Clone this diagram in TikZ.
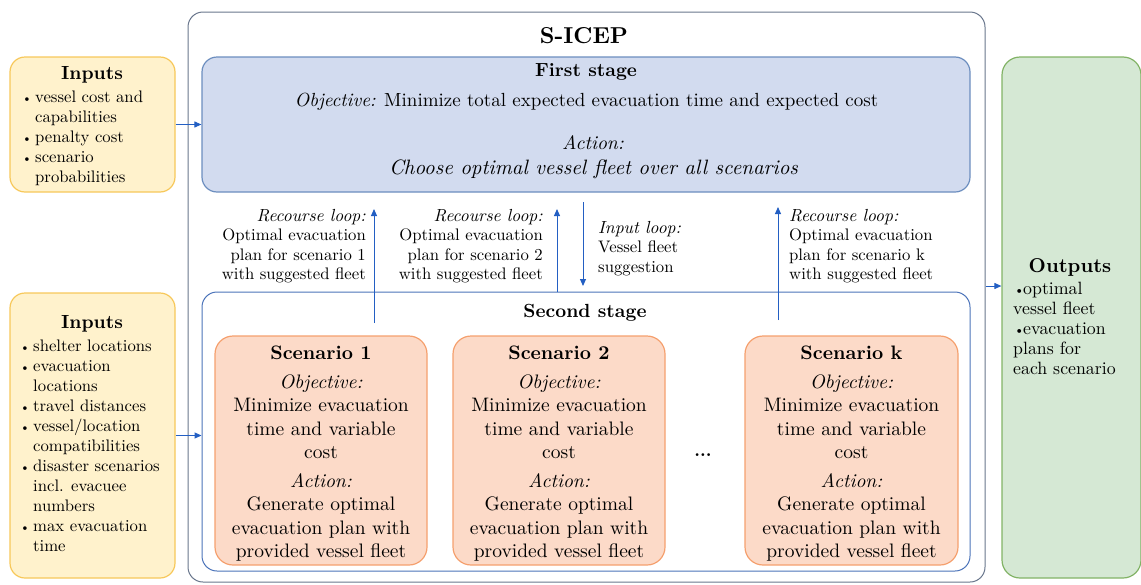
\documentclass[tikz,border=0pt]{standalone}
\usepackage{fontspec}
\setmainfont{lmroman10-regular.otf}[BoldFont=lmroman10-bold.otf, ItalicFont=lmroman10-italic.otf, BoldItalicFont=lmroman10-bolditalic.otf]
\usetikzlibrary{arrows.meta}
\definecolor{inFill}{RGB}{255,242,204}
\definecolor{inDraw}{RGB}{247,200,90}
\definecolor{fsFill}{RGB}{210,219,239}
\definecolor{fsDraw}{RGB}{108,142,191}
\definecolor{outerDraw}{RGB}{105,118,140}
\definecolor{ssDraw}{RGB}{75,115,185}
\definecolor{scFill}{RGB}{252,218,200}
\definecolor{scDraw}{RGB}{245,160,110}
\definecolor{outFill}{RGB}{213,232,212}
\definecolor{outDraw}{RGB}{130,179,102}
\definecolor{arrC}{RGB}{35,95,195}
\newcommand\fz[2]{\fontsize{#1}{#2}\selectfont}
\newcommand\bul{\makebox[13pt][l]{\raisebox{0.5pt}{\scalebox{0.75}{\textbullet}}}}
\newcommand\bulo{\makebox[10pt][l]{\hspace*{1pt}\raisebox{0.5pt}{\scalebox{0.75}{\textbullet}}}}
\begin{document}
\begin{tikzpicture}[x=1pt,y=-1pt,
  boxbase/.style={draw, line width=1.2pt, inner sep=0pt},
  inbox/.style={boxbase, fill=inFill, draw=inDraw, rounded corners=15pt},
  fsbox/.style={boxbase, fill=fsFill, draw=fsDraw, rounded corners=15pt},
  outerbox/.style={boxbase, draw=outerDraw, line width=1pt, rounded corners=15pt},
  ssbox/.style={boxbase, draw=ssDraw, line width=1pt, rounded corners=15pt},
  scbox/.style={boxbase, fill=scFill, draw=scDraw, rounded corners=18pt},
  outbox/.style={boxbase, fill=outFill, draw=outDraw, rounded corners=18pt},
  conn/.style={draw=arrC, line width=1pt, -{Triangle[length=7pt,width=6pt]}},
  lbl/.style={font=\fz{16.7}{19.5}, inner sep=0pt},
  items/.style={font=\fz{16.7}{20}, inner sep=0pt, align=left, anchor=north west},
  sctext/.style={font=\fz{19.5}{23.5}, inner sep=0pt, align=center, anchor=north},
  ttl/.style={font=\fz{19}{23}\bfseries, inner sep=0pt}
]
\useasboundingbox (0,0) rectangle (1141,584);

% boxes
\node[outerbox, minimum width=797, minimum height=570] (outer) at (586.5,297) {};
\node[fsbox, minimum width=768, minimum height=135] (first) at (586,124.5) {};
\node[ssbox, minimum width=768, minimum height=279] (second) at (586,431.5) {};
\node[scbox, minimum width=212, minimum height=229] (sc1) at (321,450.5) {};
\node[scbox, minimum width=212, minimum height=229] (sc2) at (559,450.5) {};
\node[scbox, minimum width=213, minimum height=229] (sck) at (851.5,450.5) {};
\node[inbox, minimum width=165, minimum height=135] (in1) at (92.5,124.5) {};
\node[inbox, minimum width=165, minimum height=285] (in2) at (92.5,435.5) {};
\node[outbox, minimum width=139, minimum height=521] (out) at (1071.5,317.5) {};

% titles and texts
\node[font=\fz{23}{28}\bfseries, inner sep=0pt] (sicep) at (584,36) {S-ICEP};
\node[font=\fz{19}{22}\bfseries, inner sep=0pt] (fst) at (586,72) {First stage};
\node[font=\fz{19}{23}, inner sep=0pt] (fobj) at (586.5,102) {\textit{Objective:} Minimize total expected evacuation time and expected cost};
\node[font=\fz{19.5}{23}\itshape, inner sep=0pt] (fact1) at (593,143) {Action:};
\node[font=\fz{20.8}{24}\itshape, inner sep=0pt] (fact2) at (593.5,169) {Choose optimal vessel fleet over all scenarios};
\node[font=\fz{19}{22}\bfseries, inner sep=0pt] (sst) at (585,313) {Second stage};

\node[sctext] (t1) at (321,346) {\textbf{Scenario 1}\\[5pt]\textit{Objective:}\\Minimize evacuation\\time and variable\\cost\\[5pt]\textit{Action:}\\Generate optimal\\evacuation plan with\\provided vessel fleet};
\node[sctext] (t2) at (559,346) {\textbf{Scenario 2}\\[5pt]\textit{Objective:}\\Minimize evacuation\\time and variable\\cost\\[5pt]\textit{Action:}\\Generate optimal\\evacuation plan with\\provided vessel fleet};
\node[sctext] (tk) at (851.5,346) {\textbf{Scenario k}\\[5pt]\textit{Objective:}\\Minimize evacuation\\time and variable\\cost\\[5pt]\textit{Action:}\\Generate optimal\\evacuation plan with\\provided vessel fleet};
\node[font=\fz{18}{22}\bfseries, inner sep=0pt] (dots) at (703,455) {...};

% loop labels
\node[lbl, align=right, anchor=north east] (l1) at (366,209) {{\fontsize{17.5}{19.5}\selectfont\textit{Recourse loop:}}\\Optimal evacuation\\plan for scenario 1\\with suggested fleet};
\node[lbl, align=right, anchor=north east] (l2) at (543,209) {{\fontsize{17.5}{19.5}\selectfont\textit{Recourse loop:}}\\Optimal evacuation\\plan for scenario 2\\with suggested fleet};
\node[lbl, align=left, anchor=north west] (l3) at (598,221) {{\fontsize{17.5}{19.5}\selectfont\textit{Input loop:}}\\Vessel fleet\\suggestion};
\node[lbl, align=left, anchor=north west] (lk) at (789,209) {{\fontsize{17.5}{19.5}\selectfont\textit{Recourse loop:}}\\Optimal evacuation\\plan for scenario k\\with suggested fleet};

% inputs / outputs text
\node[ttl] (in1t) at (92,75) {Inputs};
\node[items] (in1i) at (22,91) {\bul vessel cost and\\ \hspace*{13pt}capabilities\\ \bul penalty cost\\ \bul scenario\\ \hspace*{13pt}probabilities};
\node[ttl] (in2t) at (92,324) {Inputs};
\node[items] (in2i) at (20,340) {\bul shelter locations\\ \bul evacuation\\ \hspace*{13pt}locations\\ \bul travel distances\\ \bul vessel/location\\ \hspace*{13pt}compatibilities\\ \bul disaster scenarios\\ \hspace*{13pt}incl. evacuee\\ \hspace*{13pt}numbers\\ \bul max evacuation\\ \hspace*{13pt}time};
\node[font=\fz{20}{24}\bfseries, inner sep=0pt] (outt) at (1070,267) {Outputs};
\node[items, font=\fz{17.8}{20}] (outi) at (1013,282) {\bulo optimal\\ vessel fleet\\ \bulo evacuation\\ plans for\\ each scenario};

% connectors
\draw[conn] (in1.east) -- (in1.east -| first.west);
\draw[conn] (in2.east) -- (in2.east -| second.west);
\draw[conn] ([yshift=11pt]outer.east) coordinate (oa) -- (oa -| out.west);
\coordinate (r1s) at (374,323);
\coordinate (r1e) at (374,209);
\draw[conn] (r1s) -- (r1e);
\coordinate (r2e) at (557,209);
\draw[conn] (second.north -| r2e) -- (r2e);
\coordinate (ils) at (583,202);
\coordinate (ile) at (583,286);
\draw[conn] (ils) -- (ile);
\coordinate (rks) at (778,320);
\coordinate (rke) at (778,207);
\draw[conn] (rks) -- (rke);
\end{tikzpicture}
\end{document}
